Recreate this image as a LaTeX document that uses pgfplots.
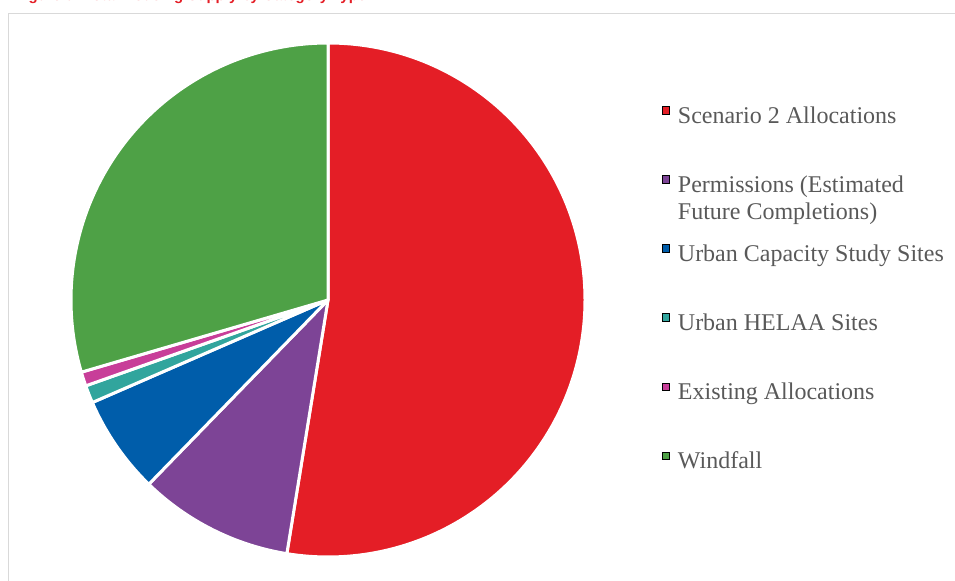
\documentclass[border=0pt]{standalone}
\usepackage{fontspec}
\setmainfont{Liberation Serif}
\setsansfont{Liberation Sans}
\usepackage{pgfplots}
\usepackage{pgfplotstable}
\pgfplotsset{compat=1.18}
\definecolor{pie0}{HTML}{E41E26}
\definecolor{pie1}{HTML}{7D4496}
\definecolor{pie2}{HTML}{005DAA}
\definecolor{pie3}{HTML}{31A59D}
\definecolor{pie4}{HTML}{C83E99}
\definecolor{pie5}{HTML}{4EA146}
\definecolor{legtext}{HTML}{595959}
\definecolor{framegray}{HTML}{D9D9D9}

% share of total supply (percent), clockwise from 12 o'clock
\pgfplotstableread{
value
52.56
9.72
6.19
1.11
0.89
29.53
}\piedata

\begin{document}
\begin{tikzpicture}
\path[use as bounding box] (0,0) rectangle (477.5bp,-290.5bp);
\begin{scope}
\clip (0,0) rectangle (477.5bp,-290.5bp);
\node[anchor=base west, inner sep=0pt, text=pie0, font=\fontsize{7.5bp}{9bp}\selectfont\sffamily\bfseries] at (7.5bp,-0.4bp) {Figure 5: Total Housing Supply by Category Type};
\draw[framegray, line width=0.6bp] (478bp,-6.6bp) -- (4.4bp,-6.6bp) -- (4.4bp,-292bp);
\end{scope}
\begin{axis}[
  at={(164bp,-150bp)}, anchor=origin,
  hide axis, scale only axis,
  width=256bp, height=256bp,
  xmin=-1, xmax=1, ymin=-1, ymax=1,
  clip=false,
  legend image code/.code={\fill[#1] (-1.9bp,1.6bp) rectangle (1.9bp,5.4bp);},
  legend cell align=left,
  legend style={
    at={(1.1518,0.8785)}, anchor=north west,
    draw=none, fill=none, inner sep=0pt, outer sep=0pt,
    row sep=23.44bp, column sep=3.9bp,
    nodes={inner sep=0pt, text height=8.5bp, text depth=2.5bp},
    font=\fontsize{12bp}{13.6bp}\selectfont, text=legtext,
  },
]
\def\cum{0}
\pgfplotsforeachungrouped \i in {0,...,5}{%
  \pgfplotstablegetelem{\i}{value}\of\piedata
  \pgfmathsetmacro\sa{90-3.6*\cum}%
  \pgfmathsetmacro\cum{\cum+\pgfplotsretval}%
  \pgfmathsetmacro\ea{90-3.6*\cum}%
  \edef\cmd{\noexpand\fill[fill=pie\i, draw=white, line width=1.5bp, line join=round] (axis cs:0,0) -- ++(\sa:128.5bp) arc[start angle=\sa, end angle=\ea, radius=128.5bp] -- cycle;}%
  \cmd
}
\addlegendimage{fill=pie0}
\addlegendentry{Scenario 2 Allocations}
\addlegendimage{fill=pie1}
\addlegendentry{\begin{tabular}[t]{@{}l@{}}Permissions (Estimated\\Future Completions)\end{tabular}}
\addlegendimage{fill=pie2}
\addlegendentry{Urban Capacity Study Sites}
\addlegendimage{fill=pie3}
\addlegendentry{Urban HELAA Sites}
\addlegendimage{fill=pie4}
\addlegendentry{Existing Allocations}
\addlegendimage{fill=pie5}
\addlegendentry{Windfall}
\end{axis}
\end{tikzpicture}
\end{document}
